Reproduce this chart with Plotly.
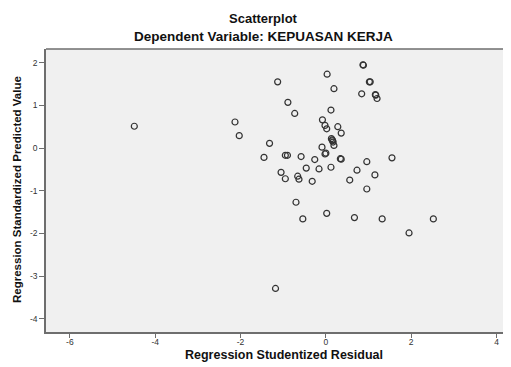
import plotly.graph_objects as go

# Regression Studentized Residual (x) and Regression Standardized Predicted Value (y)
x_resid = [-4.49, -1.13, 0.03, 0.19, -0.89, -0.73, 0.12, -2.13, -2.03, -0.08,
           -0.02, 0.02, 0.28, 0.36, 0.13, 0.16, 0.17, 0.19, 0.15, -1.32,
           -1.45, -0.90, -0.95, -0.58, -0.26, -0.09, -0.02, 0.00, 0.34, 0.36,
           -0.46, -0.16, 0.12, -1.05, -0.95, -0.66, -0.63, -0.32, 0.56, 0.73,
           0.87, 0.88, 1.02, 1.04, 0.84, 1.16, 1.17, 1.20, 1.55, 0.96,
           1.15, 0.96, -0.70, -0.54, 0.02, 0.67, 1.32, 2.52, 1.95, -1.18]
y_pred = [0.51, 1.55, 1.73, 1.39, 1.07, 0.81, 0.89, 0.61, 0.29, 0.66,
          0.53, 0.45, 0.50, 0.35, 0.22, 0.17, 0.14, 0.06, 0.19, 0.11,
          -0.22, -0.17, -0.17, -0.20, -0.27, 0.02, -0.14, -0.12, -0.25, -0.26,
          -0.47, -0.49, -0.45, -0.57, -0.72, -0.66, -0.73, -0.78, -0.75, -0.52,
          1.95, 1.94, 1.55, 1.55, 1.27, 1.25, 1.24, 1.16, -0.23, -0.32,
          -0.63, -0.96, -1.27, -1.66, -1.53, -1.63, -1.66, -1.66, -1.99, -3.29]

x_ticks = [-6, -4, -2, 0, 2, 4]
x_tick_labels = ["-6", "-4", "-2", "0", "2", "4"]
y_ticks = [-4, -3, -2, -1, 0, 1, 2]
y_tick_labels = ["-4", "-3", "-2", "-1", "0", "1", "2"]

title_main = "Scatterplot"
title_sub = "Dependent Variable: KEPUASAN KERJA"
x_title = "Regression Studentized Residual"
y_title = "Regression Standardized Predicted Value"

FONT = "Liberation Sans, Arial, sans-serif"
AXC = "#6e6e6e"

# page body has an 8px default margin, so the figure sits at (8, 8)
OFF = 8
W, H = 511 - OFF, 367 - OFF
ML, MT, MB, MR = 46 - OFF, 49 - OFF, 35, 0

fig = go.Figure()
fig.add_trace(go.Scatter(
    x=x_resid, y=y_pred, mode="markers",
    marker=dict(symbol="circle-open", size=6, color="#333333",
                line=dict(width=1.2, color="#333333")),
    hoverinfo="x+y", showlegend=False,
))

fig.update_layout(
    width=W, height=H,
    margin=dict(l=ML, r=MR, t=MT, b=MB),
    paper_bgcolor="white", plot_bgcolor="#f0f0f0",
    font=dict(family=FONT, color="#222222"),
    xaxis=dict(range=[-6.56, 4.34], tickvals=x_ticks, ticktext=x_tick_labels,
               ticks="outside", ticklen=4, tickcolor=AXC, showline=True,
               linecolor=AXC, linewidth=1.5, showgrid=False, zeroline=False,
               ticklabelstandoff=-3,
               tickfont=dict(size=8.5, color="#333333")),
    yaxis=dict(range=[-4.31, 2.32], tickvals=y_ticks, ticktext=y_tick_labels,
               ticks="outside", ticklen=5, tickcolor=AXC, showline=True,
               linecolor=AXC, linewidth=1.5, showgrid=False, zeroline=False,
               tickfont=dict(size=8.5, color="#333333")),
    shapes=[dict(type="line", xref="paper", yref="paper", x0=0, x1=1.05, y0=1, y1=1,
                 line=dict(color=AXC, width=1.5))],
)

plot_h = H - MT - MB
plot_w = W - ML - MR
def py(pix):
    # pix is window pixel
    return (H - MB - (pix - OFF)) / plot_h
def px(pix):
    return ((pix - OFF) - ML) / plot_w

fig.add_annotation(text="<b>" + title_main + "</b>", xref="paper", yref="paper",
                   x=px(263), y=py(18), xanchor="center", yanchor="middle",
                   showarrow=False, font=dict(size=13, color="#111111"))
fig.add_annotation(text="<b>" + title_sub + "</b>", xref="paper", yref="paper",
                   x=px(263), y=py(37), xanchor="center", yanchor="middle",
                   showarrow=False, font=dict(size=13.5, color="#111111"))
fig.add_annotation(text="<b>" + x_title + "</b>", xref="paper", yref="paper",
                   x=px(284), y=py(355), xanchor="center", yanchor="middle",
                   showarrow=False, font=dict(size=12.5, color="#111111"))
fig.add_annotation(text="<b>" + y_title + "</b>", xref="paper", yref="paper",
                   x=px(17), y=py(190), xanchor="center", yanchor="middle", textangle=-90,
                   showarrow=False, font=dict(size=11.5, color="#111111"))

fig.write_html("out.html")
